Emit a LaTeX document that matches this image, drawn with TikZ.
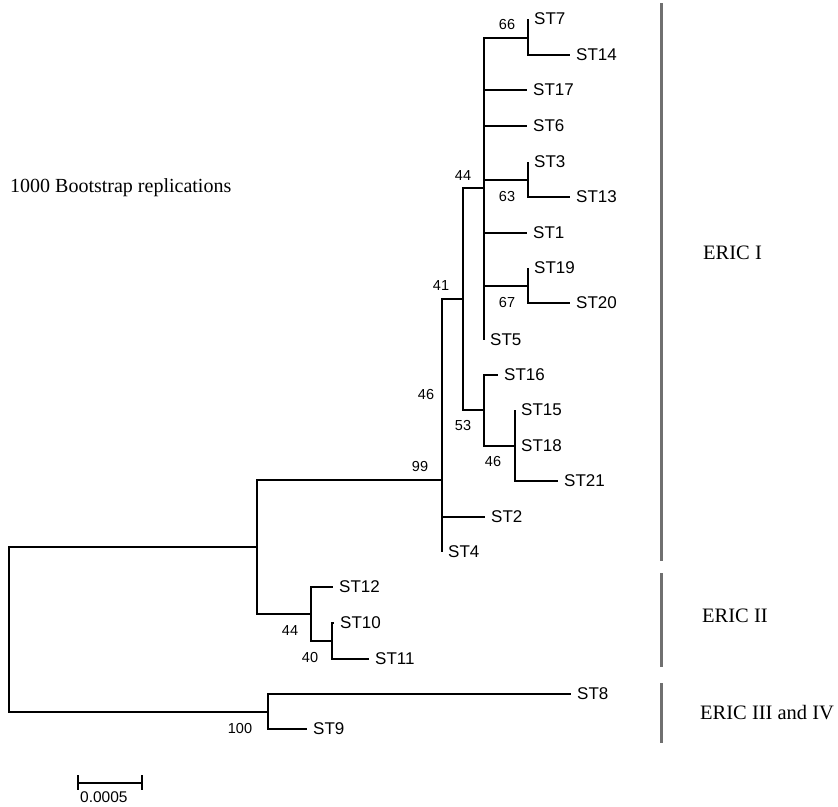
\documentclass[tikz,border=0pt]{standalone}
\usepackage{fontspec}
\setmainfont{Liberation Serif}
\newfontfamily\treefont{Liberation Sans}
\usepackage{tikz}
\usetikzlibrary{positioning, calc}
\usepackage{xcolor}
\definecolor{cladegray}{HTML}{707070}

\tikzset{
    branch/.style={line width=1.3pt, black},
    leaf/.style={anchor=west, inner sep=0pt, xshift=6pt, font=\treefont\fontsize{17}{20}\selectfont},
    boot/.style={inner sep=0pt, font=\treefont\fontsize{14.5}{17}\selectfont},
    cladebar/.style={line width=3pt, cladegray},
    cladename/.style={anchor=west, inner sep=0pt, font=\fontsize{20.5}{24}\selectfont}
}

\begin{document}
\begin{tikzpicture}[x=1pt, y=-1pt]
    \useasboundingbox (0,0) rectangle (838,806);

    % internal nodes of the tree
    \coordinate (root) at (9,630);
    \coordinate (nA) at (257,547);
    \coordinate (n99) at (442,480);
    \coordinate (n41) at (463,299);
    \coordinate (n44) at (484,188);
    \coordinate (n66) at (528,38);
    \coordinate (n63) at (528,180);
    \coordinate (n67) at (528,286);
    \coordinate (n53) at (484,410);
    \coordinate (n46) at (515,446);
    \coordinate (n44b) at (311,614);
    \coordinate (n40) at (332,641);
    \coordinate (n100) at (268,712);

    % tips, with their labels
    \foreach \name/\pos in {7/{528,19}, 14/{570,55}, 17/{527,90}, 6/{527,126},
        3/{528,162}, 13/{570,197}, 1/{527,233}, 19/{528,268}, 20/{570,303},
        5/{484,340}, 16/{498,375}, 15/{515,410}, 18/{515,446}, 21/{558,481},
        2/{485,517}, 4/{442,552}, 12/{333,587}, 10/{334,623}, 11/{369,659},
        8/{571,694}, 9/{307,729}} {
        \coordinate (t\name) at (\pos);
        \node[leaf] (l\name) at (t\name) {ST\name};
    }

    % branches
    \draw[branch] (root) |- (nA);
    \draw[branch] (root) |- (n100);
    \draw[branch] (nA) |- (n99);
    \draw[branch] (nA) |- (n44b);
    \draw[branch] (n99) |- (n41);
    \draw[branch] (n99) |- (t2);
    \draw[branch] (n99) |- (t4);
    \draw[branch] (n41) |- (n44);
    \draw[branch] (n41) |- (n53);
    \foreach \child in {n66, t17, t6, n63, t1, n67, t5}
        \draw[branch] (n44) |- (\child);
    \draw[branch] (n66) |- (t7);
    \draw[branch] (n66) |- (t14);
    \draw[branch] (n63) |- (t3);
    \draw[branch] (n63) |- (t13);
    \draw[branch] (n67) |- (t19);
    \draw[branch] (n67) |- (t20);
    \draw[branch] (n53) |- (t16);
    \draw[branch] (n53) |- (n46);
    \draw[branch] (n46) |- (t15);
    \draw[branch] (n46) |- (t18);
    \draw[branch] (n46) |- (t21);
    \draw[branch] (n44b) |- (t12);
    \draw[branch] (n44b) |- (n40);
    \draw[branch] (n40) |- (t10);
    \draw[branch] (n40) |- (t11);
    \draw[branch] (n100) |- (t8);
    \draw[branch] (n100) |- (t9);

    % bootstrap values
    \node[boot] (b66) at (507,25) {66};
    \node[boot] (b44) at (463,176) {44};
    \node[boot] (b63) at (507,197) {63};
    \node[boot] (b41) at (441,286) {41};
    \node[boot] (b67) at (507,303) {67};
    \node[boot] (b46a) at (426,395) {46};
    \node[boot] (b53) at (463,426) {53};
    \node[boot] (b46b) at (493,462) {46};
    \node[boot] (b99) at (420,467) {99};
    \node[boot] (b44b) at (290,631) {44};
    \node[boot] (b40) at (310,657) {40};
    \node[boot] (b100) at (240,728) {100};

    \node[anchor=west, inner sep=0pt, font=\fontsize{20}{24}\selectfont] (reps) at (10,188) {1000 Bootstrap replications};

    % clade bars
    \coordinate (c1a) at (661,3);
    \coordinate (c1b) at (661,561);
    \coordinate (c2a) at (661,573);
    \coordinate (c2b) at (661,667);
    \coordinate (c3a) at (661,683);
    \coordinate (c3b) at (661,743);
    \draw[cladebar] (c1a) -- (c1b);
    \draw[cladebar] (c2a) -- (c2b);
    \draw[cladebar] (c3a) -- (c3b);
    \node[cladename] (eric1) at (703,253) {ERIC I};
    \node[cladename] (eric2) at (702,616) {ERIC II};
    \node[cladename] (eric3) at (700,713) {ERIC III and IV};

    % scale bar
    \coordinate (sbl) at (78,783);
    \coordinate (sbr) at (142,783);
    \draw[branch] (sbl) -- (sbr);
    \draw[branch] ($(sbl)+(0,-8)$) -- ($(sbl)+(0,7)$);
    \draw[branch] ($(sbr)+(0,-8)$) -- ($(sbr)+(0,7)$);
    \node[boot, font=\treefont\fontsize{15.5}{18}\selectfont, anchor=north west] (sblabel) at (80,791) {0.0005};
\end{tikzpicture}
\end{document}
